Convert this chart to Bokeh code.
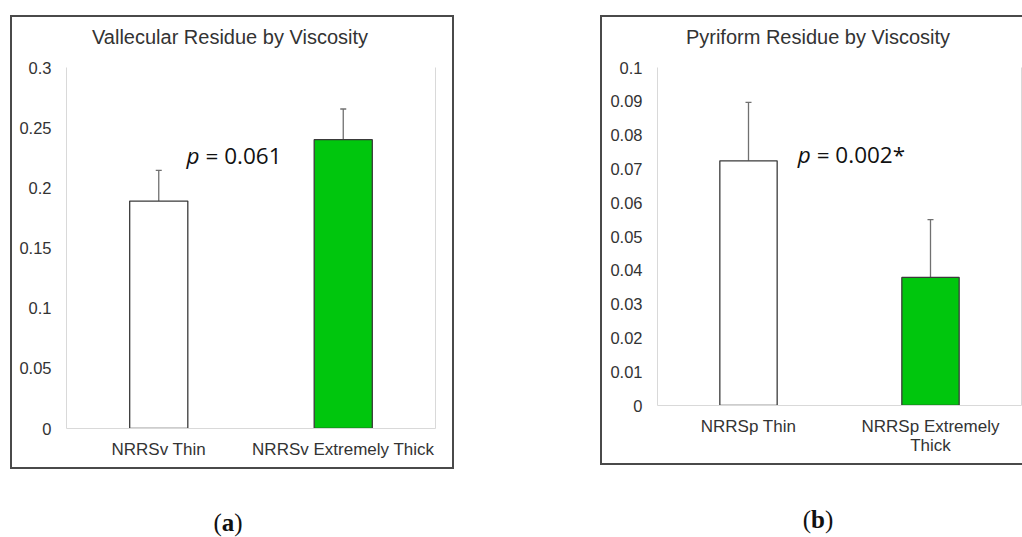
from bokeh.plotting import figure
from bokeh.models import (FactorRange, Range1d, LinearAxis, FixedTicker, Whisker,
                          ColumnDataSource, TeeHead, Spacer, Div)
from bokeh.layouts import row, column
from bokeh.core.properties import value
from bokeh.embed import file_html
from bokeh.resources import INLINE

# ---------------- data: panel (a) ----------------
title_a = "Vallecular Residue by Viscosity"
cats_a = ["NRRSv Thin", "NRRSv Extremely Thick"]
means_a = [0.189, 0.240]
errs_a = [0.0255, 0.0255]
bar_colors_a = ["#ffffff", "#00c60d"]
yticks_a = [0, 0.05, 0.1, 0.15, 0.2, 0.25, 0.3]
ytick_labels_a = ["0", "0.05", "0.1", "0.15", "0.2", "0.25", "0.3"]
ymax_a = 0.3
pval_a = "= 0.061"
pval_pos_a = (0.65, 0.2265)
panel_label_a = "a"

# ---------------- data: panel (b) ----------------
title_b = "Pyriform Residue by Viscosity"
cats_b = ["NRRSp Thin", "NRRSp Extremely\nThick"]
means_b = [0.0724, 0.0379]
errs_b = [0.0173, 0.0171]
bar_colors_b = ["#ffffff", "#00c60d"]
yticks_b = [0, 0.01, 0.02, 0.03, 0.04, 0.05, 0.06, 0.07, 0.08, 0.09, 0.1]
ytick_labels_b = ["0", "0.01", "0.02", "0.03", "0.04", "0.05", "0.06", "0.07", "0.08", "0.09", "0.1"]
ymax_b = 0.1
pval_b = "= 0.002*"
pval_pos_b = (0.77, 0.0742)
panel_label_b = "b"

FONT = "Liberation Sans"
TXT = "#333333"
AXIS_GRAY = "#d9d9d9"
BOX = "2px solid #4a4a4a"
TITLE_H = 35


def make_panel(cats, means, errs, colors, yticks, ylabels,
               ymax, ptxt, ppos, width, height, borders):
    p = figure(width=width, height=height,
               x_range=FactorRange(*cats, range_padding=0),
               y_range=Range1d(0, ymax),
               output_backend="svg", toolbar_location=None,
               min_border_left=borders[0], min_border_right=borders[1],
               min_border_top=borders[2], min_border_bottom=borders[3])
    p.grid.visible = False
    p.outline_line_color = None
    p.background_fill_color = "white"
    p.border_fill_color = "white"

    src = ColumnDataSource(dict(x=cats, top=means,
                                upper=[m + e for m, e in zip(means, errs)],
                                color=colors))
    p.vbar(x="x", top="top", width=0.315, source=src, fill_color="color",
           line_color="#3a3a3a", line_width=1.3)
    p.add_layout(Whisker(source=src, base="x", lower="top", upper="upper",
                         line_color="#707070", line_width=1.3,
                         upper_head=TeeHead(size=6, line_color="#707070", line_width=1.3),
                         lower_head=None))

    # y axis
    yax = p.yaxis[0]
    yax.ticker = FixedTicker(ticks=yticks)
    yax.major_label_overrides = {t: l for t, l in zip(yticks, ylabels)}
    yax.axis_line_color = AXIS_GRAY
    yax.major_tick_line_color = None
    yax.minor_tick_line_color = None
    yax.major_tick_out = 0
    yax.minor_tick_out = 0
    yax.major_label_standoff = 15
    yax.major_label_text_font = FONT
    yax.major_label_text_font_size = "16.5px"
    yax.major_label_text_color = TXT

    # x axis
    xax = p.xaxis[0]
    xax.axis_line_color = AXIS_GRAY
    xax.major_tick_line_color = None
    xax.major_tick_out = 0
    xax.major_label_standoff = 11
    xax.major_label_text_font = FONT
    xax.major_label_text_font_size = "17px"
    xax.major_label_text_line_height = 1.05
    xax.major_label_text_color = TXT

    # right frame line
    rax = LinearAxis(ticker=FixedTicker(ticks=[]), axis_line_color=AXIS_GRAY,
                     major_tick_line_color=None, minor_tick_line_color=None,
                     major_tick_out=0, major_label_text_color=None)
    p.add_layout(rax, "right")

    # p-value annotation
    p.text(x=[ppos[0]], y=[ppos[1]], text=["p"], text_font=value("Open Sans"),
           text_font_style="italic", text_font_size="22.5px",
           text_baseline="alphabetic", text_align="left", text_color="#111111")
    p.text(x=[ppos[0]], y=[ppos[1]], text=[ptxt], text_font=value("Open Sans"),
           text_font_size="22.5px", x_offset=19,
           text_baseline="alphabetic", text_align="left", text_color="#111111")
    return p


def title_div(text, width, cx):
    html = ('<div style="position:relative;width:%dpx;height:%dpx">'
            '<div style="position:absolute;left:%dpx;top:8px;width:400px;text-align:center;'
            'font-family:\'Liberation Sans\',sans-serif;font-size:20px;line-height:24px;'
            'color:%s;white-space:nowrap">%s</div></div>' % (width, TITLE_H, cx - 200, TXT, text))
    return Div(text=html, width=width, height=TITLE_H, margin=0)


fig_a = make_panel(cats_a, means_a, errs_a, bar_colors_a,
                   yticks_a, ytick_labels_a, ymax_a, pval_a, pval_pos_a,
                   width=440, height=450 - TITLE_H, borders=(54, 17, 15, 39))
fig_b = make_panel(cats_b, means_b, errs_b, bar_colors_b,
                   yticks_b, ytick_labels_b, ymax_b, pval_b, pval_pos_b,
                   width=420, height=446 - TITLE_H, borders=(55, 1, 15, 58))

wrap_a = column(title_div(title_a, 440, 218), fig_a, styles={"border": BOX})
wrap_b = column(title_div(title_b, 420, 216), fig_b,
                styles={"border-left": BOX, "border-top": BOX, "border-bottom": BOX})


def panel_tag(letter, cx, top):
    return ('<div style="position:absolute;left:%dpx;top:%dpx;width:100px;text-align:center;'
            'font-family:\'Liberation Serif\',serif;font-weight:normal;font-size:25px;'
            'line-height:24px;color:#111">(<b>%s</b>)</div>' % (cx - 50, top, letter))


labels = Div(text=('<div style="position:relative;width:1022px;height:68px">'
                   + panel_tag(panel_label_a, 228, 42)
                   + panel_tag(panel_label_b, 818, 39) + '</div>'),
             width=1022, height=68, margin=0)

layout = column(Spacer(height=15, width=10),
                row(Spacer(width=10, height=450), wrap_a, Spacer(width=146, height=450), wrap_b),
                labels)

open("out.html", "w").write(file_html(layout, INLINE))
